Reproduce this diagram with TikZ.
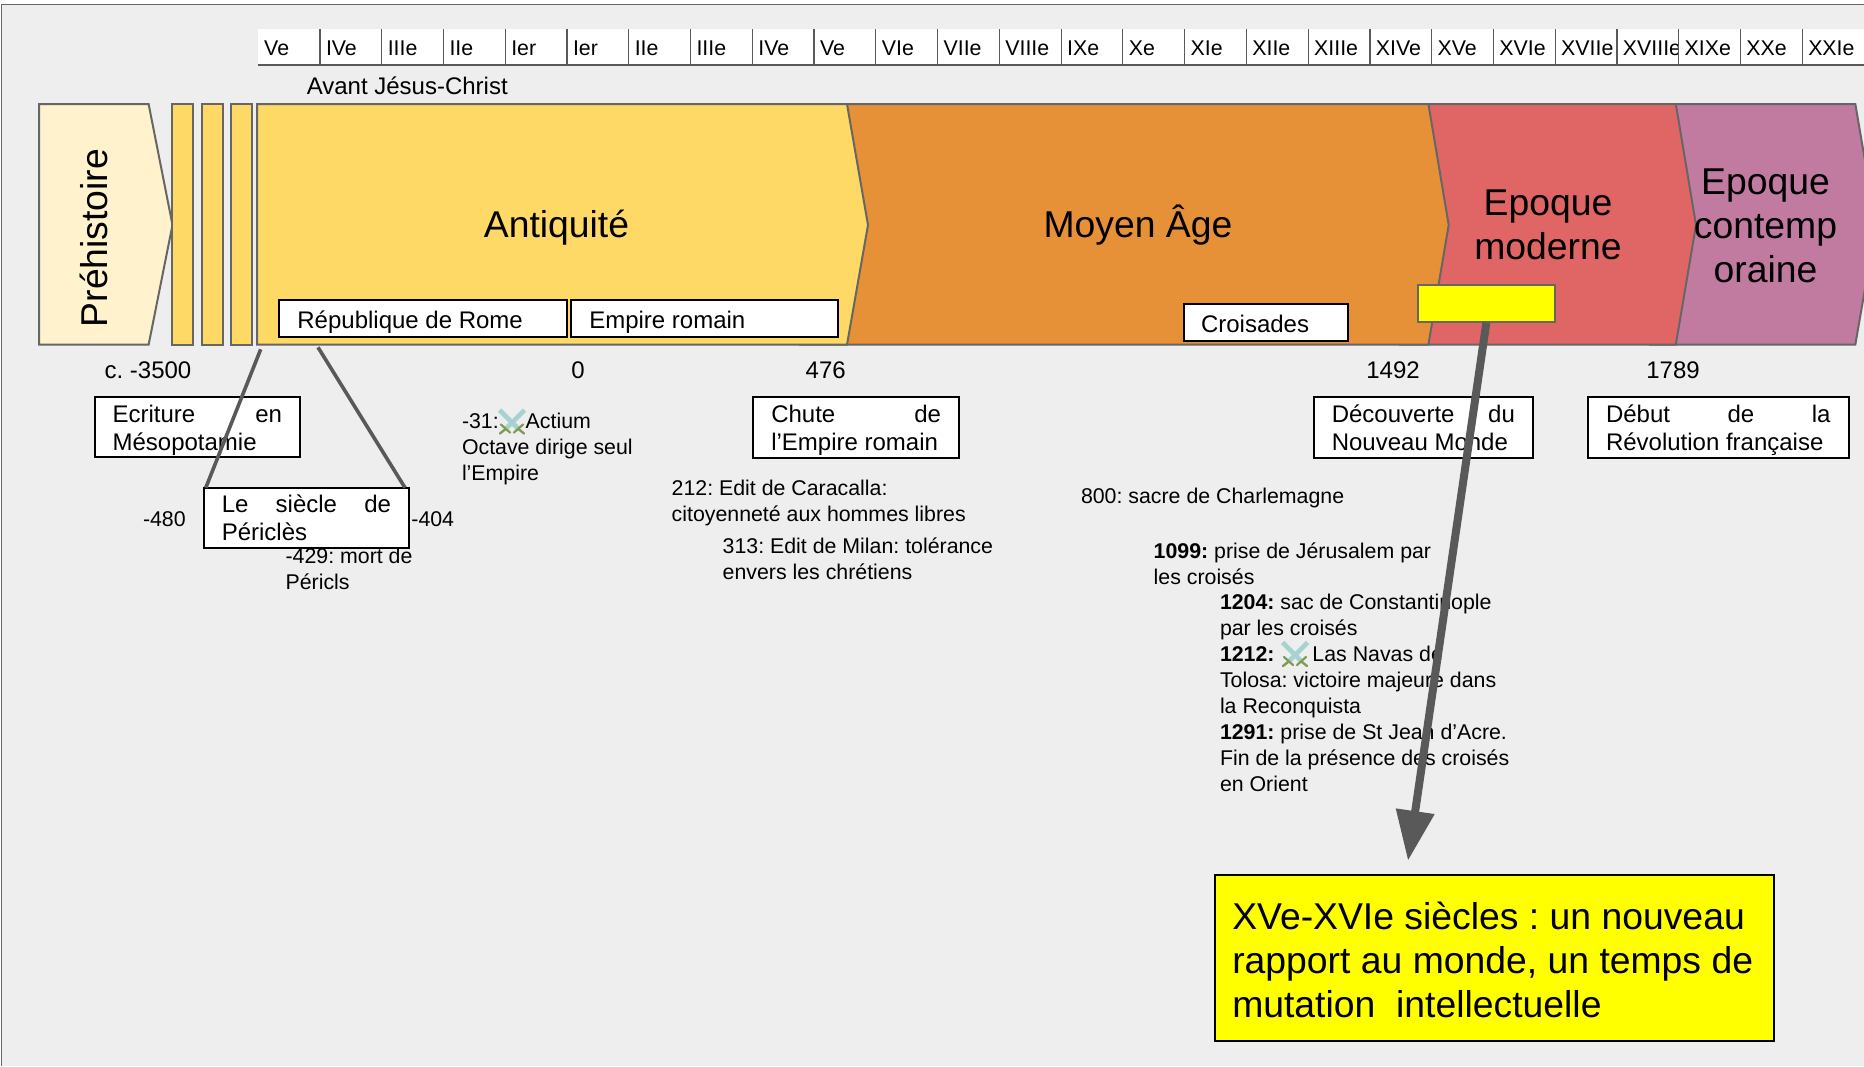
\documentclass[tikz,border=0pt]{standalone}
\usepackage{fontspec}
\setmainfont{Liberation Sans}
\usetikzlibrary{arrows.meta}
\definecolor{bgc}{HTML}{EEEEEE}
\definecolor{edgec}{HTML}{666666}
\definecolor{linec}{HTML}{595959}
\definecolor{prec}{HTML}{FFF2CC}
\definecolor{antc}{HTML}{FFD966}
\definecolor{moyc}{HTML}{E69138}
\definecolor{modc}{HTML}{E06666}
\definecolor{conc}{HTML}{C27BA0}
\definecolor{bladec}{HTML}{A6D2D2}
\definecolor{hiltc}{HTML}{7F9C55}
\definecolor{yelc}{rgb}{1,1,0}
\newcommand{\sz}[2]{\fontsize{#1}{#2}\selectfont}
\newcommand{\firstln}{\rule{0pt}{23.2pt}}
\newcommand{\firstlnp}{\rule{0pt}{21.7pt}}
\newcommand{\lastln}{\rule[-5pt]{0pt}{5pt}}
\newcommand{\crossedswords}[2]{%
  \begin{scope}[shift={(#1,#2)}]
    \draw[bladec,line width=4.6pt] (-12.5,-11.5) -- (7,8);
    \draw[bladec,line width=4.6pt] (12.5,-11.5) -- (-7,8);
    \draw[hiltc,line width=2.4pt,line cap=round] (7,8) -- (12,12) (-7,8) -- (-12,12);
    \draw[hiltc,line width=2.2pt,line cap=round] (2,11) -- (11,3) (-2,11) -- (-11,3);
  \end{scope}}
\tikzset{
  era/.style={draw=edgec,line width=2pt,line join=miter},
  hcell/.style={fill=white,minimum width=61.76pt,minimum height=36pt,inner sep=0pt,outer sep=0pt,text height=17pt,text depth=0pt,font=\sz{21.33}{26}},
  sepline/.style={draw=linec,line width=1.2pt},
  tx/.style={anchor=base west,inner sep=0pt,outer sep=0pt,align=left,font=\sz{21.33}{26}},
  yr/.style={anchor=base,inner sep=0pt,outer sep=0pt,font=\sz{24}{28}},
  big/.style={anchor=base,inner sep=0pt,outer sep=0pt,align=center,font=\sz{37.33}{44}},
  bx/.style={draw=black,fill=white,line width=2pt,inner ysep=0pt,outer sep=0pt,align=flush left,font=\sz{24}{27.6}},
  conn/.style={draw=linec,line width=3.6pt},
}
\begin{document}
\frenchspacing
\begin{tikzpicture}[x=1pt,y=-1pt]
\useasboundingbox (0,0) rectangle (1864,1066);
\clip (0,0) rectangle (1864,1066);
\fill[white] (0,0) rectangle (1864,1066);
\fill[bgc] (1.5,4.5) rectangle (1864,1066);
\draw[edgec,line width=1.6pt] (1.5,1066) -- (1.5,4.5) -- (1864,4.5);
% header
\foreach \i/\lab in {1/Ve,2/IVe,3/IIIe,4/IIe,5/Ier,6/Ier,7/IIe,8/IIIe,9/IVe,10/Ve,11/VIe,12/VIIe,13/VIIIe,14/IXe,15/Xe,16/XIe,17/XIIe,18/XIIIe,19/XIVe,20/XVe,21/XVIe,22/XVIIe,23/XVIIIe,24/XIXe,25/XXe,26/XXIe}
  \node[hcell] (h\i) at ({258.24+(\i-0.5)*61.76},47) {\makebox[61.76pt][l]{\hspace{6pt}\rlap{\lab}}};
\foreach \i in {2,...,26} \draw[sepline] (h\i.north west) -- (h\i.south west);
\draw[sepline,line width=1.6pt] (h1.south west) -- (h26.south east);
\node[tx,font=\sz{24}{28}] (avant) at (306.8,94) {Avant Jésus-Christ};
% eras
\draw[era,fill=conc] (1650,104) -- (1855.3,104) -- (1876,225) -- (1855.3,344.7) -- (1650,344.7) -- cycle;
\draw[era,fill=modc] (1400,104) -- (1675.8,104) -- (1696,225) -- (1675.8,344.7) -- (1400,344.7) -- cycle;
\draw[era,fill=moyc] (800,104) -- (1428.4,104) -- (1448.7,225) -- (1428.4,344.7) -- (800,344.7) -- cycle;
\draw[era,fill=antc] (257,104) -- (847,104) -- (868,225) -- (847,344.7) -- (257,344.7) -- cycle;
\draw[era,fill=prec] (39,104) -- (148.6,104) -- (172.5,225) -- (148.6,344.7) -- (39,344.7) -- cycle;
\draw[era,fill=antc] (172.4,104) rectangle (193,344.7);
\draw[era,fill=antc] (202,104) rectangle (223,344.7);
\draw[era,fill=antc] (230.7,104) rectangle (251.5,344.7);
\node[big,rotate=90] (prehist) at (107.8,238) {Préhistoire};
\node[big] (antiq) at (556.5,237.3) {Antiquité};
\node[big] (moyen) at (1138,237.3) {Moyen Âge};
\node[big] (moderne) at (1548,259) {Epoque\\moderne};
\node[big] (contemp) at (1765.5,282) {Epoque\\contemp\\oraine};
% boxes on the bar
\node[bx,minimum width=287.2pt,minimum height=37.3pt,text width=251.2pt,inner xsep=18pt,text height=22pt,text depth=2.6pt] (republique) at (423,318.35) {République de Rome};
\node[bx,minimum width=267pt,minimum height=37.3pt,text width=231pt,inner xsep=18pt,text height=22pt,text depth=2.6pt] (empire) at (704.8,318.35) {Empire romain};
\node[bx,minimum width=164.5pt,minimum height=37.6pt,text width=129.5pt,inner xsep=17.5pt,text height=22pt,text depth=2.6pt] (croisades) at (1265.75,322.5) {Croisades};
\node[draw=edgec,fill=yelc,line width=2pt,minimum width=136.2pt,minimum height=37.3pt,inner sep=0pt,outer sep=0pt] (ysmall) at (1486.4,303.65) {};
% years
\node[yr] (y3500) at (148,378) {c. -3500};
\node[yr] (y0) at (578,378) {0};
\node[yr] (y476) at (825.7,378) {476};
\node[yr] (y1492) at (1393,378) {1492};
\node[yr] (y1789) at (1673,378) {1789};
% notes
\node[tx] (m480) at (143,526) {-480};
\node[tx] (m404) at (411.4,526) {-404};
\node[tx] (m429) at (285.6,589) {-429: mort de\\Péricls};
\node[tx] (m31) at (462,480.3) {-31:\hspace{27pt}Actium\\Octave dirige seul\\l’Empire};
\crossedswords{512}{421.5}
\node[tx] (n212) at (671.7,521.7) {212: Edit de Caracalla:\\citoyenneté aux hommes libres};
\node[tx] (n313) at (722.7,579.7) {313: Edit de Milan: tolérance\\envers les chrétiens};
\node[tx] (n800) at (1081,503.3) {800: sacre de Charlemagne};
\node[tx] (n1099) at (1153.7,584.3) {\textbf{1099:} prise de Jérusalem par\\les croisés};
\node[tx] (n1204) at (1220,791) {\textbf{1204:} sac de Constantinople\\par les croisés\\\textbf{1212:} \hspace{32pt}Las Navas de\\Tolosa: victoire majeure dans\\la Reconquista\\\textbf{1291:} prise de St Jean d’Acre.\\Fin de la présence des croisés\\en Orient};
\crossedswords{1295}{654}
% event boxes
\node[bx,minimum width=205.4pt,minimum height=60.3pt,text width=169.4pt,inner xsep=18pt] (ecriture) at (197.3,427.2) {\firstln Ecriture\hfill en\\Mésopotamie\lastln};
\node[bx,minimum width=205.2pt,minimum height=60.6pt,text width=169.2pt,inner xsep=18pt] (pericles) at (306.4,518) {\firstlnp Le\hfill siècle\hfill de\\Périclès\lastln};
\node[bx,minimum width=205.7pt,minimum height=60.7pt,text width=169.7pt,inner xsep=18pt] (chute) at (856.15,427.35) {\firstln Chute\hfill de\\l’Empire romain\lastln};
\node[bx,minimum width=219.1pt,minimum height=60.7pt,text width=183.1pt,inner xsep=18pt] (decouverte) at (1423.35,427.35) {\firstln Découverte\hfill du\\Nouveau Monde\lastln};
\node[bx,minimum width=260.5pt,minimum height=60.7pt,text width=224.5pt,inner xsep=18pt] (debut) at (1718.25,427.35) {\firstln Début\hfill de\hfill la\\Révolution française\lastln};
% yellow box
\node[draw=black,fill=yelc,line width=2pt,minimum width=559.5pt,minimum height=166pt,text width=524pt,inner xsep=17.75pt,inner ysep=0pt,outer sep=0pt,align=flush left,font=\sz{37.33}{44}] (ybox) at (1494.25,958) {\rule{0pt}{31.5pt}XVe-XVIe siècles : un nouveau\\rapport au monde, un temps de\\mutation \ intellectuelle};
% connectors
\coordinate (pleft) at (260.7,349.3);
\coordinate (pright) at (318,347.3);
\coordinate (tip) at (1408,860.7);
\draw[conn] (pleft) -- ([xshift=2pt]pericles.north west);
\draw[conn] (pright) -- ([xshift=-4pt]pericles.north east);
\draw[draw=linec,line width=8pt,-{Triangle[length=50pt,width=37pt]}] (ysmall.south) -- (tip);
\end{tikzpicture}
\end{document}
